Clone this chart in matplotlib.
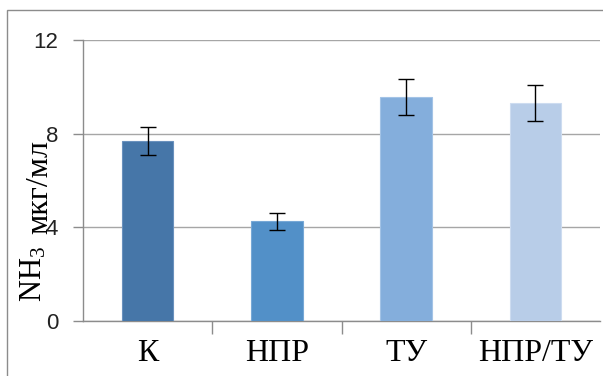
import matplotlib
matplotlib.use('Agg')
import matplotlib.pyplot as plt
from matplotlib.patches import Rectangle

# data
groups = ['К', 'НПР', 'ТУ', 'НПР/ТУ']
nh3 = [7.7, 4.25, 9.57, 9.3]
err = [0.6, 0.37, 0.77, 0.77]
bar_colors = ['#4676a8', '#5290c8', '#84aedc', '#b8cde8']
edge_colors = ['#6a91bd', '#77a8d6', '#a3c3e6', '#cddcf0']
yticks = [0, 4, 8, 12]

W, H = 603, 376
fig = plt.figure(figsize=(W / 100, H / 100), dpi=100)
fig.patch.set_facecolor('white')

# outer frame (only left/top are visible in the crop)
fig.patches.append(Rectangle((7 / W, -0.05), 1.2, (H - 10) / H + 0.05,
                             transform=fig.transFigure, fill=False,
                             edgecolor='#8c8c8c', linewidth=1))

ax = fig.add_axes([83 / W, (H - 321) / H, (600 - 83) / W, (321 - 40) / H])
x = range(len(groups))
ax.bar(x, nh3, width=0.4, color=bar_colors, edgecolor=edge_colors,
       linewidth=0.8, zorder=3)
ax.errorbar(x, nh3, yerr=err, fmt='none', ecolor='black', elinewidth=1,
            capsize=6, capthick=1, zorder=4)

ax.set_xlim(-0.5, 3.5)
ax.set_ylim(0, 12)
ax.set_yticks(yticks)
ax.set_yticklabels([str(v) for v in yticks], fontfamily='Liberation Sans',
                   fontsize=16, color='#222222')
ax.set_xticks(list(x))
ax.set_xticklabels(groups, fontfamily='Liberation Serif', fontsize=23)
ax.set_xticks([0.5, 1.5, 2.5], minor=True)

ax.tick_params(axis='x', which='major', length=0, pad=13)
ax.tick_params(axis='x', which='minor', length=9, color='#8c8c8c', width=1)
ax.tick_params(axis='y', length=7, color='#8c8c8c', width=1, pad=11)

ax.grid(axis='y', color='#a6a6a6', linewidth=1, zorder=0)
for s in ['top', 'right']:
    ax.spines[s].set_visible(False)
for s in ['left', 'bottom']:
    ax.spines[s].set_color('#8c8c8c')
    ax.spines[s].set_linewidth(1)

# rotated axis label: NH3 then units on the subscript baseline
plt.rcParams['mathtext.fontset'] = 'custom'
plt.rcParams['mathtext.rm'] = 'Liberation Serif'
plt.rcParams['mathtext.it'] = 'Liberation Serif'
fig.text(42 / W, (H - 302) / H, r'NH$_\mathregular{3}$', rotation=90,
         rotation_mode='anchor', ha='left', va='baseline',
         fontfamily='Liberation Serif', fontsize=22)
fig.text(47 / W, (H - 234) / H, 'мкг/мл', rotation=90,
         rotation_mode='anchor', ha='left', va='baseline',
         fontfamily='Liberation Serif', fontsize=23)

fig.savefig('out.png', dpi=100)
